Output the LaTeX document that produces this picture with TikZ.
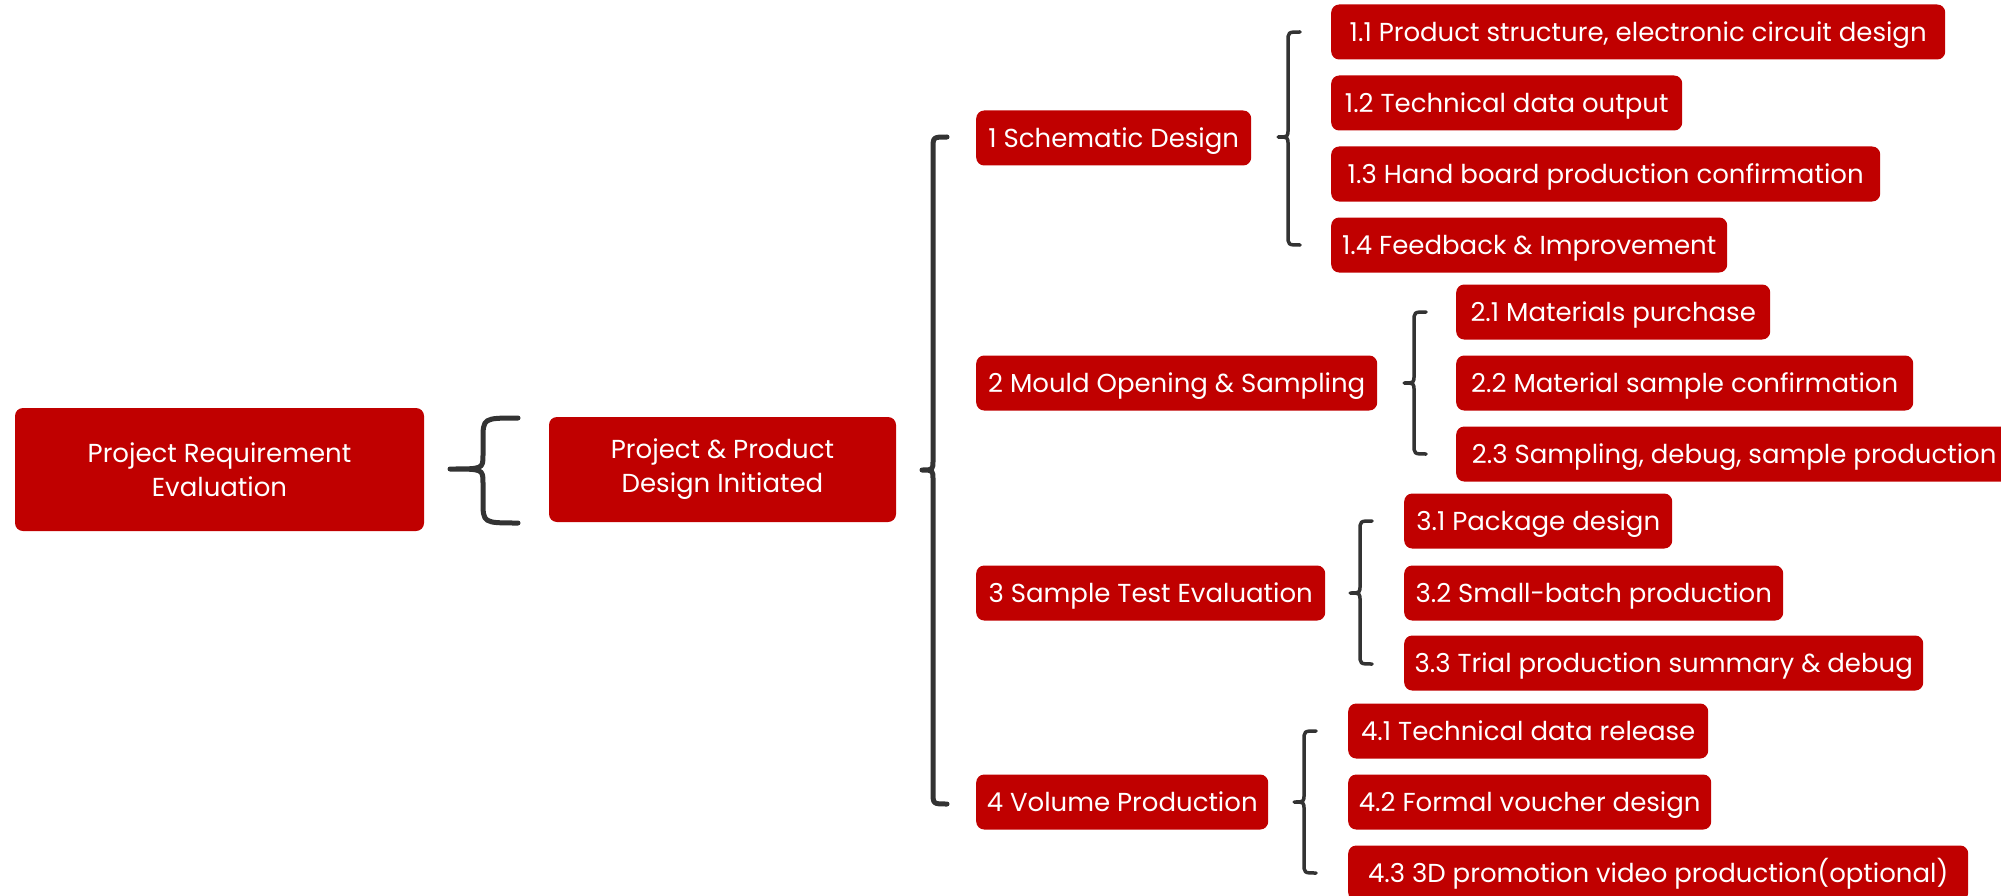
\documentclass[tikz,border=0pt]{standalone}
\usepackage{fontspec}
\setmainfont{Poppins}
\definecolor{boxred}{RGB}{192,0,0}
\definecolor{bracegray}{RGB}{51,51,51}
\newcommand\bracedraw[9]{%
  \draw[bracegray,line width=#9pt,line cap=round,line join=round]
    (#3,#4) .. controls (#2,#4) .. (#2,#4+#7) -- (#2,#5-#8)
    .. controls (#2,#5) .. (#1,#5)
    .. controls (#2,#5) .. (#2,#5+#8) -- (#2,#6-#7)
    .. controls (#2,#6) .. (#3,#6);}
\begin{document}
\begin{tikzpicture}[x=1pt,y=-1pt,
  box/.style={rectangle,rounded corners=8pt,fill=boxred,text=white,
    font=\fontsize{26}{34}\selectfont,inner sep=0pt,minimum height=55pt,align=center},
  leaf/.style={box,anchor=west,text height=18.5pt,text depth=0pt}]
\useasboundingbox (0,0) rectangle (2001,896);
% root boxes
\node[box,minimum width=409pt,minimum height=123pt] (root) at (219.5,469.5) {Project Requirement\\Evaluation};
\node[box,minimum width=347pt,minimum height=105pt] (init) at (722.5,469.5) {Project \& Product\\Design Initiated};
% level 1
\node[leaf,minimum width=275pt] (s1) at (976,138) {1 Schematic Design};
\node[leaf,minimum width=401pt] (s2) at (976,383) {2 Mould Opening \& Sampling};
\node[leaf,minimum width=349pt] (s3) at (976,593) {3 Sample Test Evaluation};
\node[leaf,minimum width=292pt] (s4) at (976,802) {4 Volume Production};
% level 2
\node[leaf,minimum width=614pt] (s11) at (1331,32) {1.1 Product structure, electronic circuit design};
\node[leaf,minimum width=351pt] (s12) at (1331,103) {1.2 Technical data output};
\node[leaf,minimum width=549pt] (s13) at (1331,174) {1.3 Hand board production confirmation};
\node[leaf,minimum width=396pt] (s14) at (1331,245) {1.4 Feedback \& Improvement};
\node[leaf,minimum width=314pt] (s21) at (1456,312) {2.1 Materials purchase};
\node[leaf,minimum width=457pt] (s22) at (1456,383) {2.2 Material sample confirmation};
\node[leaf,minimum width=556pt] (s23) at (1456,454) {2.3 Sampling, debug, sample production};
\node[leaf,minimum width=268pt] (s31) at (1404,521) {3.1 Package design};
\node[leaf,minimum width=379pt] (s32) at (1404,593) {3.2 Small-batch production};
\node[leaf,minimum width=519pt] (s33) at (1404,663) {3.3 Trial production summary \& debug};
\node[leaf,minimum width=360pt] (s41) at (1348,731) {4.1 Technical data release};
\node[leaf,minimum width=363pt] (s42) at (1348,802) {4.2 Formal voucher design};
\node[leaf,minimum width=620pt] (s43) at (1348,873) {4.3 3D promotion video production(optional)};
% braces
\bracedraw{450}{483}{518}{418}{469}{523}{22}{14}{5}
\bracedraw{922}{933}{947}{137}{470}{804}{12}{10}{5}
\bracedraw{1278}{1288}{1300}{32}{137}{245}{10}{8}{3.5}
\bracedraw{1404}{1414}{1426}{312}{383}{454}{10}{8}{3.5}
\bracedraw{1350}{1360}{1372}{521}{593}{664}{10}{8}{3.5}
\bracedraw{1294}{1304}{1316}{731}{802}{873}{10}{8}{3.5}
\end{tikzpicture}
\end{document}
